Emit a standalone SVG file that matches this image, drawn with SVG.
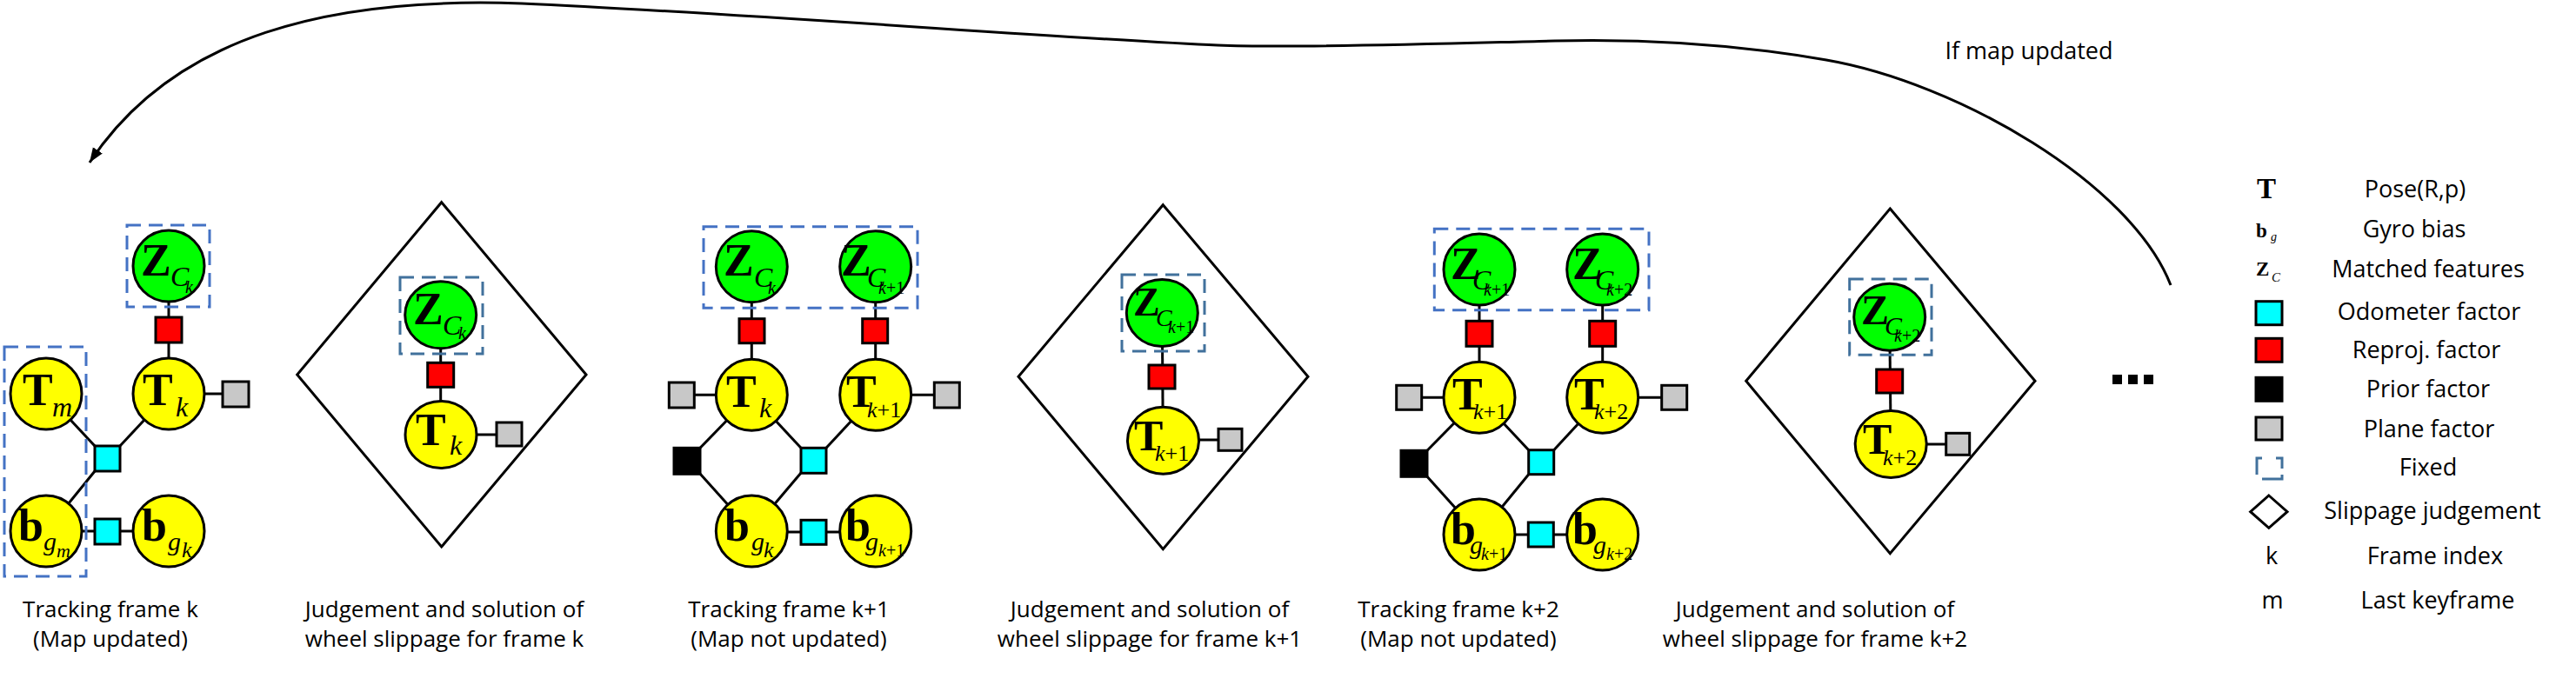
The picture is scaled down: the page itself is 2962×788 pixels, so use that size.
<svg xmlns="http://www.w3.org/2000/svg" width="2962" height="788" viewBox="0 0 2962 788">
<defs>
<style>
.y{fill:#ffff00;stroke:#000;stroke-width:3}
.gr{fill:#00ff00;stroke:#000;stroke-width:3}
.sq{stroke:#000;stroke-width:3}
.cy{fill:#00ffff}.rd{fill:#ff0000}.bk{fill:#000}.gy{fill:#c8c8c8}
.e{stroke:#000;stroke-width:3;fill:none}
.fx{fill:none;stroke:#4472c4;stroke-width:3;stroke-dasharray:16 9}
.fx2{fill:none;stroke:#41719c;stroke-width:3;stroke-dasharray:16 9}
.dm{fill:none;stroke:#000;stroke-width:3;stroke-linejoin:miter}
.M{font:bold 52px "Liberation Serif",serif}
.C{font:italic 32px "Liberation Serif",serif}
.S1{font:italic 32px "Liberation Serif",serif}
.S2{font:italic 26px "Liberation Serif",serif}
.S3{font:italic 20px "Liberation Serif",serif}
.S4{font:italic 22px "Liberation Serif",serif}
.G{font:italic 30px "Liberation Serif",serif}
.n{font-style:normal}
.lb{font-family:"Open Sans","Liberation Sans",sans-serif;font-size:26px;fill:#000;text-anchor:middle}
.lg{font-family:"Open Sans","Liberation Sans",sans-serif;font-size:27px;fill:#000;text-anchor:middle}
</style>
<marker id="ah" markerUnits="userSpaceOnUse" markerWidth="20" markerHeight="14" refX="17" refY="6.5" orient="auto">
<path d="M0,0 L17,6.5 L0,13 z" fill="#000"/>
</marker>
</defs>
<rect width="2962" height="788" fill="#fff"/>

<g id="connectors">
<path class="e" stroke-width="2.5" d="M2496,328 C2450,210 2250,95 2100,69 C1980,48 1870,45 1788,47 C1700,49 1500,56 1400,52 C1250,46 850,15 600,4 C380,-4 200,40 103,187" marker-end="url(#ah)"/>
<!-- frame k -->
<line class="e" x1="194" y1="306" x2="194" y2="453"/>
<line class="e" x1="194" y1="453" x2="271" y2="453"/>
<line class="e" x1="53" y1="453" x2="109" y2="513"/>
<line class="e" x1="194" y1="453" x2="138" y2="513"/>
<line class="e" x1="53" y1="611" x2="109" y2="542"/>
<line class="e" x1="53" y1="611" x2="194" y2="611"/>
<!-- diamond k -->
<line class="e" x1="506.7" y1="362" x2="506.7" y2="500"/>
<line class="e" x1="507" y1="500" x2="585" y2="500"/>
<!-- frame k+1 -->
<line class="e" x1="864.3" y1="306.7" x2="864.3" y2="454.3"/>
<line class="e" x1="1006.7" y1="306.7" x2="1006.7" y2="454.3"/>
<line class="e" x1="784" y1="454.3" x2="864.3" y2="454.3"/>
<line class="e" x1="1006.7" y1="454.3" x2="1089" y2="454.3"/>
<line class="e" x1="864.3" y1="454.3" x2="805" y2="515.3"/>
<line class="e" x1="805" y1="545" x2="864.3" y2="611"/>
<line class="e" x1="864.3" y1="454.3" x2="921" y2="515.3"/>
<line class="e" x1="921" y1="544" x2="864.3" y2="611"/>
<line class="e" x1="950" y1="515.3" x2="1006.7" y2="454.3"/>
<line class="e" x1="864.3" y1="612" x2="1006.7" y2="612"/>
<!-- diamond k+1 -->
<line class="e" x1="1336.3" y1="360" x2="1337.3" y2="506.7"/>
<line class="e" x1="1337.5" y1="506" x2="1414" y2="506"/>
<!-- frame k+2 -->
<line class="e" x1="1701" y1="310" x2="1701" y2="457.3"/>
<line class="e" x1="1842.7" y1="310" x2="1842.7" y2="457.3"/>
<line class="e" x1="1620" y1="457.3" x2="1701" y2="457.3"/>
<line class="e" x1="1842.7" y1="457.3" x2="1925" y2="457.3"/>
<line class="e" x1="1701" y1="457.3" x2="1641" y2="518.3"/>
<line class="e" x1="1641" y1="548.3" x2="1701" y2="615"/>
<line class="e" x1="1701" y1="457.3" x2="1757.7" y2="517.7"/>
<line class="e" x1="1757.7" y1="545.7" x2="1701" y2="615"/>
<line class="e" x1="1786.7" y1="517.7" x2="1842.7" y2="457.3"/>
<line class="e" x1="1701" y1="615" x2="1842.7" y2="615"/>
<!-- diamond k+2 -->
<line class="e" x1="2172.7" y1="364.7" x2="2174.2" y2="511"/>
<line class="e" x1="2174.2" y1="511" x2="2251" y2="511"/>
</g>

<text class="lg" x="2333" y="68">If map updated</text>

<!-- ===== Tracking frame k ===== -->
<g id="frame-k">
<rect class="fx" x="146" y="259" width="95" height="94"/>
<rect class="fx" x="5" y="399" width="94" height="264"/>
<g id="k-Zck"><circle class="gr" cx="194" cy="306" r="41"/><text><tspan class="M" x="162" y="317">Z</tspan><tspan class="C" x="196" y="329">C</tspan><tspan class="S3" x="213" y="337">k</tspan></text></g>
<g id="k-Rk"><rect class="sq rd" x="179" y="365" width="30" height="29"/></g>
<g id="k-Tk"><circle class="y" cx="194" cy="453" r="41"/><text><tspan class="M" x="164" y="466">T</tspan><tspan class="S1" x="202" y="479">k</tspan></text></g>
<g id="k-Pk"><rect class="sq gy" x="256" y="439" width="30" height="29"/></g>
<g id="k-Tm"><circle class="y" cx="53" cy="453" r="41"/><text><tspan class="M" x="26" y="466">T</tspan><tspan class="S1" x="60" y="479">m</tspan></text></g>
<g id="k-O1"><rect class="sq cy" x="109" y="513" width="29" height="29"/></g>
<g id="k-bgm"><circle class="y" cx="53" cy="611" r="41"/><text><tspan class="M" x="21" y="622">b</tspan><tspan class="G" x="50" y="633">g</tspan><tspan class="S4" x="65" y="641">m</tspan></text></g>
<g id="k-O2"><rect class="sq cy" x="109" y="597" width="29" height="29"/></g>
<g id="k-bgk"><circle class="y" cx="194" cy="611" r="41"/><text><tspan class="M" x="163" y="622">b</tspan><tspan class="G" x="193" y="633">g</tspan><tspan class="S2" x="209" y="641">k</tspan></text></g>
<text class="lb" x="127" y="710">Tracking frame k</text>
<text class="lb" x="127" y="744">(Map updated)</text>
</g>

<!-- ===== Judgement frame k ===== -->
<g id="judge-k">
<polygon class="dm" points="507.7,232.7 674,431 507.7,629 341.7,431"/>
<rect class="fx2" x="460" y="319" width="95" height="88"/>
<g id="jk-Z"><ellipse class="gr" cx="506.7" cy="362.3" rx="41" ry="38.5"/><text><tspan class="M" x="475" y="373">Z</tspan><tspan class="C" x="509" y="385">C</tspan><tspan class="S3" x="527" y="390">k</tspan></text></g>
<g id="jk-R"><rect class="sq rd" x="491.7" y="417.3" width="30" height="28"/></g>
<g id="jk-T"><ellipse class="y" cx="507" cy="500" rx="41" ry="38.5"/><text><tspan class="M" x="478" y="512">T</tspan><tspan class="S1" x="517" y="523">k</tspan></text></g>
<g id="jk-P"><rect class="sq gy" x="571" y="486" width="29" height="27"/></g>
<text class="lb" x="511" y="710">Judgement and solution of</text>
<text class="lb" x="511" y="744">wheel slippage for frame k</text>
</g>

<!-- ===== Tracking frame k+1 ===== -->
<g id="frame-k1">
<rect class="fx" x="809" y="260.7" width="246" height="93.6"/>
<g id="k1-Zck"><circle class="gr" cx="864.3" cy="306.7" r="41"/><text><tspan class="M" x="832" y="317">Z</tspan><tspan class="C" x="867" y="330">C</tspan><tspan class="S3" x="883" y="338">k</tspan></text></g>
<g id="k1-Zck1"><circle class="gr" cx="1006.7" cy="306.7" r="41"/><text><tspan class="M" x="967" y="317">Z</tspan><tspan class="C" x="997" y="330">C</tspan><tspan class="S3" x="1010" y="338">k<tspan class="n">+1</tspan></tspan></text></g>
<g id="k1-R1"><rect class="sq rd" x="850" y="366.7" width="29" height="28"/></g>
<g id="k1-R2"><rect class="sq rd" x="991.7" y="366.7" width="29" height="28"/></g>
<g id="k1-Tk"><circle class="y" cx="864.3" cy="454.3" r="41"/><text><tspan class="M" x="835" y="468">T</tspan><tspan class="S1" x="873" y="480">k</tspan></text></g>
<g id="k1-Tk1"><circle class="y" cx="1006.7" cy="454.3" r="41"/><text><tspan class="M" x="973" y="468">T</tspan><tspan class="S2" x="997" y="480">k<tspan class="n">+1</tspan></tspan></text></g>
<g id="k1-P1"><rect class="sq gy" x="769.3" y="440" width="29" height="29"/></g>
<g id="k1-P2"><rect class="sq gy" x="1074.3" y="440" width="29" height="29"/></g>
<g id="k1-Pr"><rect class="sq bk" x="775" y="515.3" width="30" height="30"/></g>
<g id="k1-O1"><rect class="sq cy" x="921" y="515.3" width="29" height="29"/></g>
<g id="k1-bgk"><circle class="y" cx="864.3" cy="611" r="41"/><text><tspan class="M" x="833" y="622">b</tspan><tspan class="G" x="864" y="633">g</tspan><tspan class="S2" x="878" y="641">k</tspan></text></g>
<g id="k1-O2"><rect class="sq cy" x="921" y="598.3" width="29" height="28"/></g>
<g id="k1-bgk1"><circle class="y" cx="1006.7" cy="611" r="41"/><text><tspan class="M" x="972" y="622">b</tspan><tspan class="G" x="995" y="633">g</tspan><tspan class="S3" x="1010" y="640">k<tspan class="n">+1</tspan></tspan></text></g>
<text class="lb" x="907" y="710">Tracking frame k+1</text>
<text class="lb" x="907" y="744">(Map not updated)</text>
</g>

<!-- ===== Judgement frame k+1 ===== -->
<g id="judge-k1">
<polygon class="dm" points="1337.3,235.7 1504,433.3 1337.3,631.7 1171,433.3"/>
<rect class="fx2" x="1290" y="316" width="95" height="88"/>
<g id="jk1-Z"><ellipse class="gr" cx="1336.3" cy="360" rx="41" ry="38.5"/><text><tspan class="M" style="font-size:46px" x="1303" y="363">Z</tspan><tspan class="C" style="font-size:28px" x="1329" y="375">C</tspan><tspan class="S3" x="1343" y="383">k<tspan class="n">+1</tspan></tspan></text></g>
<g id="jk1-R"><rect class="sq rd" x="1321" y="420" width="30" height="27"/></g>
<g id="jk1-T"><ellipse class="y" cx="1337.5" cy="506.7" rx="41" ry="38.5"/><text><tspan class="M" style="font-size:50px" x="1304" y="518">T</tspan><tspan class="S2" x="1328" y="530">k<tspan class="n">+1</tspan></tspan></text></g>
<g id="jk1-P"><rect class="sq gy" x="1401" y="493.3" width="27" height="25"/></g>
<text class="lb" x="1322" y="710">Judgement and solution of</text>
<text class="lb" x="1322" y="744">wheel slippage for frame k+1</text>
</g>

<!-- ===== Tracking frame k+2 ===== -->
<g id="frame-k2">
<rect class="fx" x="1649.3" y="263.3" width="246.7" height="93.4"/>
<g id="k2-Zck1"><circle class="gr" cx="1701" cy="310" r="41"/><text><tspan class="M" x="1668" y="321">Z</tspan><tspan class="C" x="1693" y="333">C</tspan><tspan class="S3" x="1706" y="340">k<tspan class="n">+1</tspan></tspan></text></g>
<g id="k2-Zck2"><circle class="gr" cx="1842.7" cy="310" r="41"/><text><tspan class="M" x="1808" y="321">Z</tspan><tspan class="C" x="1834" y="333">C</tspan><tspan class="S3" x="1847" y="340">k<tspan class="n">+2</tspan></tspan></text></g>
<g id="k2-R1"><rect class="sq rd" x="1686" y="369.3" width="30" height="29"/></g>
<g id="k2-R2"><rect class="sq rd" x="1827.7" y="369.3" width="30" height="29"/></g>
<g id="k2-Tk1"><circle class="y" cx="1701" cy="457.3" r="41"/><text><tspan class="M" x="1670" y="471">T</tspan><tspan class="S2" x="1694" y="482">k<tspan class="n">+1</tspan></tspan></text></g>
<g id="k2-Tk2"><circle class="y" cx="1842.7" cy="457.3" r="41"/><text><tspan class="M" x="1810" y="471">T</tspan><tspan class="S2" x="1833" y="482">k<tspan class="n">+2</tspan></tspan></text></g>
<g id="k2-P1"><rect class="sq gy" x="1605.7" y="443.3" width="29" height="28"/></g>
<g id="k2-P2"><rect class="sq gy" x="1910.7" y="443.3" width="29" height="28"/></g>
<g id="k2-Pr"><rect class="sq bk" x="1611" y="518.3" width="30" height="30"/></g>
<g id="k2-O1"><rect class="sq cy" x="1757.7" y="517.7" width="29" height="28"/></g>
<g id="k2-bgk1"><circle class="y" cx="1701" cy="615" r="41"/><text><tspan class="M" x="1668" y="626">b</tspan><tspan class="G" x="1690" y="637">g</tspan><tspan class="S3" x="1703" y="644">k<tspan class="n">+1</tspan></tspan></text></g>
<g id="k2-O2"><rect class="sq cy" x="1757.3" y="601" width="29" height="28"/></g>
<g id="k2-bgk2"><circle class="y" cx="1842.7" cy="615" r="41"/><text><tspan class="M" x="1808" y="626">b</tspan><tspan class="G" x="1832" y="637">g</tspan><tspan class="S3" x="1847" y="644">k<tspan class="n">+2</tspan></tspan></text></g>
<text class="lb" x="1677" y="710">Tracking frame k+2</text>
<text class="lb" x="1677" y="744">(Map not updated)</text>
</g>

<!-- ===== Judgement frame k+2 ===== -->
<g id="judge-k2">
<polygon class="dm" points="2173.3,240 2340,438.3 2173.3,636.7 2007.7,438.3"/>
<rect class="fx2" x="2126.7" y="321" width="94.3" height="87.3"/>
<g id="jk2-Z"><ellipse class="gr" cx="2172.7" cy="364.7" rx="41" ry="38.5"/><text><tspan class="M" style="font-size:48px" x="2140" y="373">Z</tspan><tspan class="C" style="font-size:30px" x="2167" y="385">C</tspan><tspan class="S3" x="2178" y="393">k<tspan class="n">+2</tspan></tspan></text></g>
<g id="jk2-R"><rect class="sq rd" x="2157.7" y="425" width="30" height="27"/></g>
<g id="jk2-T"><ellipse class="y" cx="2174.2" cy="511" rx="41" ry="38.5"/><text><tspan class="M" style="font-size:50px" x="2142" y="522">T</tspan><tspan class="S2" x="2165" y="535">k<tspan class="n">+2</tspan></tspan></text></g>
<g id="jk2-P"><rect class="sq gy" x="2237.7" y="498.3" width="27" height="25"/></g>
<text class="lb" x="2087" y="710">Judgement and solution of</text>
<text class="lb" x="2087" y="744">wheel slippage for frame k+2</text>
</g>

<!-- ellipsis -->
<g id="ellipsis">
<rect x="2429" y="431" width="11" height="11" fill="#000"/>
<rect x="2447" y="431" width="11" height="11" fill="#000"/>
<rect x="2465" y="431" width="11" height="11" fill="#000"/>
</g>

<!-- ===== Legend ===== -->
<g id="legend">
<text x="2595" y="228" style="font:bold 33px 'Liberation Serif',serif">T</text>
<text class="lg" x="2777" y="227">Pose(R,p)</text>
<text><tspan x="2594" y="273" style="font:bold 23px 'Liberation Serif',serif">b</tspan><tspan x="2611" y="277" style="font:italic 14px 'Liberation Serif',serif">g</tspan></text>
<text class="lg" x="2776" y="273">Gyro bias</text>
<text><tspan x="2594" y="317" style="font:bold 23px 'Liberation Serif',serif">Z</tspan><tspan x="2612" y="324" style="font:italic 15px 'Liberation Serif',serif">C</tspan></text>
<text class="lg" x="2792" y="319">Matched features</text>
<rect class="sq cy" x="2594" y="346.7" width="30" height="27"/>
<text class="lg" x="2793" y="368">Odometer factor</text>
<rect class="sq rd" x="2594" y="389.3" width="30" height="27"/>
<text class="lg" x="2790" y="412">Reproj. factor</text>
<rect class="sq bk" x="2594" y="434.3" width="30" height="27"/>
<text class="lg" x="2792" y="457">Prior factor</text>
<rect class="sq gy" x="2594" y="480" width="30" height="26"/>
<text class="lg" x="2793" y="503">Plane factor</text>
<path d="M2595,546 V527 H2601 M2617,527 H2624 V539 M2601,551 H2624 V546" fill="none" stroke="#41719c" stroke-width="3"/>
<text class="lg" x="2792" y="547">Fixed</text>
<polygon class="dm" points="2608.8,570 2630,588.7 2608.8,607.3 2587.7,588.7"/>
<text class="lg" x="2797" y="597">Slippage judgement</text>
<text class="lg" x="2612" y="649">k</text>
<text class="lg" x="2800" y="649">Frame index</text>
<text class="lg" x="2613" y="700">m</text>
<text class="lg" x="2803" y="700">Last keyframe</text>
</g>
</svg>
